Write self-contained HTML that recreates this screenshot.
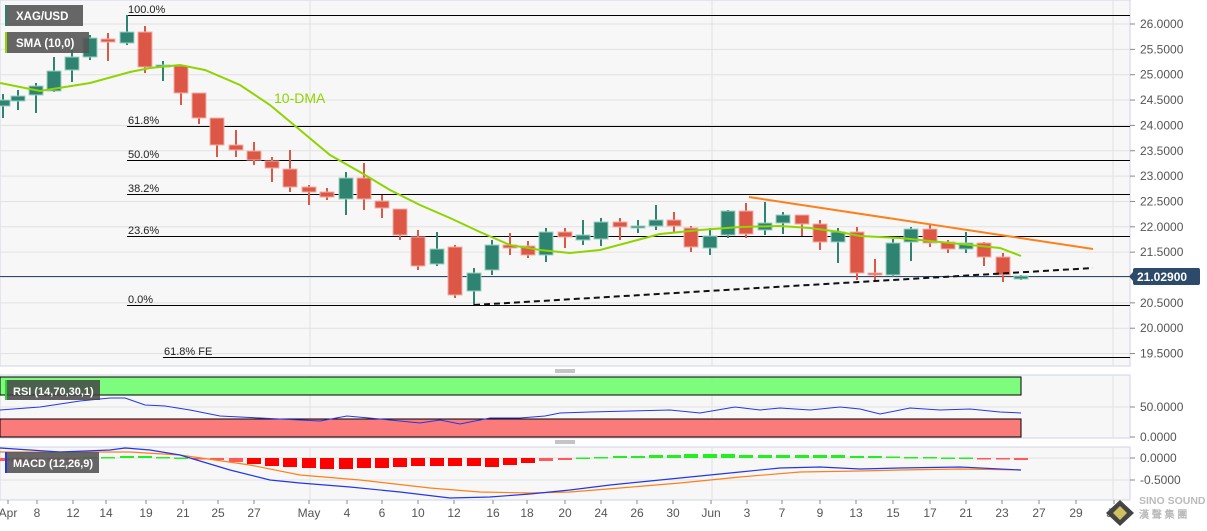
<!DOCTYPE html>
<html><head><meta charset="utf-8"><style>
body{margin:0;background:#fff;width:1207px;height:526px;overflow:hidden;font-family:"Liberation Sans",sans-serif}
svg text{font-family:"Liberation Sans",sans-serif}
</style></head><body>
<svg id="s" width="1207" height="526" xmlns="http://www.w3.org/2000/svg">
<rect x="0" y="0" width="1130" height="366" fill="#f7f7f7" stroke="#cfd6e6"/>
<rect x="0" y="375" width="1130" height="63" fill="#f7f7f7" stroke="#cfd6e6"/>
<rect x="0" y="447" width="1130" height="53" fill="#f7f7f7" stroke="#cfd6e6"/>
<g id="grid" stroke="#e2e2e2" stroke-width="1"></g>
<g id="fib" stroke="#000" stroke-width="1"></g>
<line x1="0" y1="276.5" x2="1130" y2="276.5" stroke="#2d4a6b" stroke-width="1"/>
<g id="cd"></g>
<polyline id="sma" fill="none" stroke="#8fd400" stroke-width="2"/>
<line x1="749" y1="197" x2="1093" y2="249" stroke="#ff7f1a" stroke-width="2"/>
<line x1="474" y1="305" x2="1093" y2="268" stroke="#111" stroke-width="2" stroke-dasharray="6,4"/>
<text x="274" y="103" font-size="14" fill="#8fd400">10-DMA</text>
<g font-size="11" fill="#222">
<text x="128" y="13">100.0%</text><text x="128" y="124">61.8%</text><text x="128" y="158">50.0%</text>
<text x="128" y="192">38.2%</text><text x="128" y="234">23.6%</text><text x="128" y="303">0.0%</text>
<text x="164" y="355">61.8% FE</text></g>
<rect x="5" y="5" width="78" height="21" fill="#555" opacity="0.9"/><rect x="5" y="5" width="2" height="21" fill="#2e7f6e"/>
<text x="16" y="20" font-size="11.5" fill="#fff" font-weight="bold">XAG/USD</text>
<rect x="5" y="32" width="84" height="21" fill="#555" opacity="0.9"/><rect x="5" y="32" width="2" height="21" fill="#8fd400"/>
<text x="16" y="47" font-size="11.5" fill="#fff" font-weight="bold">SMA (10,0)</text>
<!-- RSI -->
<rect x="0" y="377" width="1021" height="18" fill="#7dfc7d" stroke="#000"/>
<rect x="0" y="419" width="1021" height="18" fill="#fb7b7b" stroke="#000"/>
<polyline id="rsi" fill="none" stroke="#2437e8" stroke-width="1"/>
<rect x="5" y="380" width="95" height="20" fill="#444" opacity="0.85"/><rect x="5" y="380" width="2" height="20" fill="#2bd12b"/>
<text x="13" y="395" font-size="11" fill="#fff" font-weight="bold">RSI (14,70,30,1)</text>
<!-- MACD -->
<g id="hist"></g>
<polyline id="sig" fill="none" stroke="#ff7f1a" stroke-width="1.2"/>
<polyline id="macd" fill="none" stroke="#2437e8" stroke-width="1.2"/>
<rect x="5" y="452" width="94" height="21" fill="#555" opacity="0.9"/><rect x="5" y="452" width="2" height="21" fill="#2437e8"/>
<text x="13" y="467" font-size="11" fill="#fff" font-weight="bold">MACD (12,26,9)</text>
<g stroke="#888"><line x1="555" y1="370" x2="575" y2="370"/><line x1="555" y1="372" x2="575" y2="372"/><line x1="555" y1="441" x2="575" y2="441"/><line x1="555" y1="443" x2="575" y2="443"/></g>
<g id="ax" font-size="12" fill="#555"></g>
<rect x="1133" y="268" width="67" height="17" rx="2" fill="#2d4a6b"/><polygon points="1129,276.5 1133,272 1133,281" fill="#2d4a6b"/>
<text x="1137" y="281" font-size="12" font-weight="bold" fill="#fff">21.02900</text>
<g font-size="12" fill="#555" id="xl"></g>
<polygon points="1120,500 1134,513 1120,526 1106,513" fill="#444"/><polygon points="1120,506 1127,513 1120,520 1113,513" fill="#d0c060"/>
<text x="1139" y="504" font-size="10.5" font-weight="bold" fill="#bbb">SINO SOUND</text>
<text x="1139" y="518" font-size="10" font-weight="bold" fill="#bbb">漢 聲 集 團</text>
</svg>
<script>
const S='http://www.w3.org/2000/svg';
function el(p,t,a){const e=document.createElementNS(S,t);for(const k in a)e.setAttribute(k,a[k]);document.getElementById(p).appendChild(e);return e;}
const Y=p=>24+(26-p)*50.7;
for(let p=19.5;p<=26.01;p+=0.5){const y=Y(p);el('grid','line',{x1:0,x2:1130,y1:y,y2:y});}
[407,458,480].forEach(y=>el('grid','line',{x1:0,x2:1130,y1:y,y2:y}));
[310,712,1113].forEach(x=>{el('grid','line',{x1:x,x2:x,y1:0,y2:366});el('grid','line',{x1:x,x2:x,y1:375,y2:438});el('grid','line',{x1:x,x2:x,y1:447,y2:500});});
[[15,127],[126,127],[160,127],[194,127],[236,127],[305,127],[357,163]].forEach(([y,x])=>el('fib','line',{x1:x,x2:1130,y1:y+.5,y2:y+.5}));
const C=[[3,1,100,106,94,118],[18,1,96,101,90,110],[36,1,86,95,83,113],[54,1,71,91,57,92],[72,1,57,70,45,82],[90,1,38,57,35,60],[108,0,39,42,33,61],[127,1,32,43,15,45],[145,0,32,67,26,73],[163,1,65,67,61,81],[181,0,66,93,66,105],[199,0,93,118,93,124],[217,0,118,145,118,157],[236,0,145,150,130,157],[254,0,151,160,142,165],[272,0,161,168,157,182],[290,0,169,187,150,192],[309,0,187,192,185,205],[327,0,192,197,188,200],[346,1,178,199,172,215],[364,0,178,199,163,210],[382,0,201,208,195,218],[400,0,209,235,209,240],[418,0,237,266,230,270],[437,1,249,264,232,266],[455,0,247,295,245,298],[474,1,273,291,268,305],[492,1,245,270,240,275],[510,0,245,248,233,255],[528,0,246,255,241,258],[546,1,232,255,228,262],[565,0,232,237,228,248],[583,1,235,240,220,245],[601,1,222,239,218,246],[620,0,222,227,218,240],[638,1,226,228,220,233],[656,1,220,226,205,230],[674,0,220,226,212,232],[691,0,228,247,226,252],[710,1,236,248,228,255],[728,1,211,235,210,238],[746,0,211,234,203,238],[765,1,223,230,202,235],[783,1,215,223,212,234],[802,0,215,224,215,236],[820,0,224,242,220,250],[838,1,232,242,228,263],[857,0,232,273,227,280],[875,0,273,275,259,282],[893,1,243,275,239,277],[911,1,229,242,227,261],[930,0,229,243,225,247],[948,0,242,249,240,253],[966,1,243,249,232,253],[984,0,243,257,242,266],[1003,0,257,275,253,282],[1021,1,276,279,275,280]];
C.forEach(([x,g,bt,bb,wt,wb])=>{const c=g?'#2e8471':'#dd5746';el('cd','line',{x1:x,x2:x,y1:wt,y2:wb,stroke:c,'stroke-width':2});el('cd','rect',{x:x-7,y:bt,width:14,height:Math.max(2,bb-bt),fill:c,stroke:g?'#9fd0c4':'#f2b0a8','stroke-width':1});});
const pts=a=>a.map(p=>p.join(',')).join(' ');
document.getElementById('sma').setAttribute('points',pts([[0,83],[40,91],[90,83],[130,72],[150,68],[180,65],[205,70],[240,85],[270,105],[300,130],[330,155],[360,172],[390,190],[420,205],[450,218],[480,232],[510,245],[540,250],[570,253],[600,250],[630,242],[660,234],[700,230],[740,227],[780,226],[810,228],[840,232],[860,236],[900,238],[940,242],[970,245],[1000,248],[1021,256]]));
document.getElementById('rsi').setAttribute('points',pts([[0,410],[40,407],[80,401],[110,398],[125,398],[145,405],[165,406],[190,410],[220,416],[260,418],[300,420],[320,421],[347,416],[380,419],[420,423],[440,420],[460,424],[490,418],[520,418],[545,416],[560,413],[590,412],[630,411],[670,410],[700,413],[735,407],[760,410],[780,408],[810,410],[840,407],[860,409],[880,414],[910,408],[940,410],[970,409],[1000,412],[1021,413]]));
document.getElementById('macd').setAttribute('points',pts([[0,448],[60,452],[110,450],[125,448],[150,450],[180,455],[230,470],[270,480],[300,483],[350,487],[400,492],[450,498],[490,497],[530,494],[570,490],[610,485],[650,481],[700,476],[740,472],[780,468],[820,467],[860,469],[900,468],[960,467],[1021,470]]));
document.getElementById('sig').setAttribute('points',pts([[0,452],[130,452],[180,455],[250,465],[300,475],[360,480],[430,488],[480,492],[530,493],[570,492],[620,488],[680,483],[740,477],[800,472],[860,471],[900,470],[960,469],[1021,470]]));
const H=[-3,-4,-3,-2,-2,1,1,2,2,1,0.5,0,-2,-4,-6,-8,-9,-10,-11,-11,-10,-10,-9,-8,-8,-8,-8,-9,-7,-5,-3,-2,0.5,1,2,2,3,3,4,4,4,3,3,3,3,3,3,2,2,1.5,1,1,0.5,0.5,-0.5,-1,-2];
H.forEach((h,i)=>{const x=C[i][0];const g=h>0;const c=g?'#22ee22':(h<-4?'#ff0000':'#ff5a5a');el('hist','rect',{x:x-7,y:g?458-h:458,width:14,height:Math.max(1.5,Math.abs(h)),fill:c});});
function t(x,y,s){const e=el('ax','text',{x:x,y:y});e.textContent=s;}
for(let p=19.5;p<=26.01;p+=0.5){const y=Y(p);el('ax','line',{x1:1130,x2:1135,y1:y,y2:y,stroke:'#888'});t(1140,y+4,p.toFixed(4));}
[[407,'50.0000'],[437,'0.0000'],[458,'0.0000'],[480,'-0.5000']].forEach(([y,s])=>{el('ax','line',{x1:1130,x2:1135,y1:y,y2:y,stroke:'#888'});t(1140,y+4,s);});
[['Apr',8],['8',37],['12',73],['14',106],['19',146],['21',183],['25',218],['27',254],['May',309],['4',347],['6',382],['10',418],['12',454],['16',493],['18',527],['20',565],['24',601],['26',637],['30',673],['Jun',711],['3',747],['7',782],['9',820],['13',856],['15',893],['17',930],['21',966],['23',1002],['27',1039],['29',1076],['Jul',1114]].forEach(([s,x])=>{const e=el('xl','text',{x:x,y:517,'text-anchor':'middle'});e.textContent=s;el('xl','line',{x1:x,x2:x,y1:500,y2:504,stroke:'#888'});});
</script>
</body></html>
